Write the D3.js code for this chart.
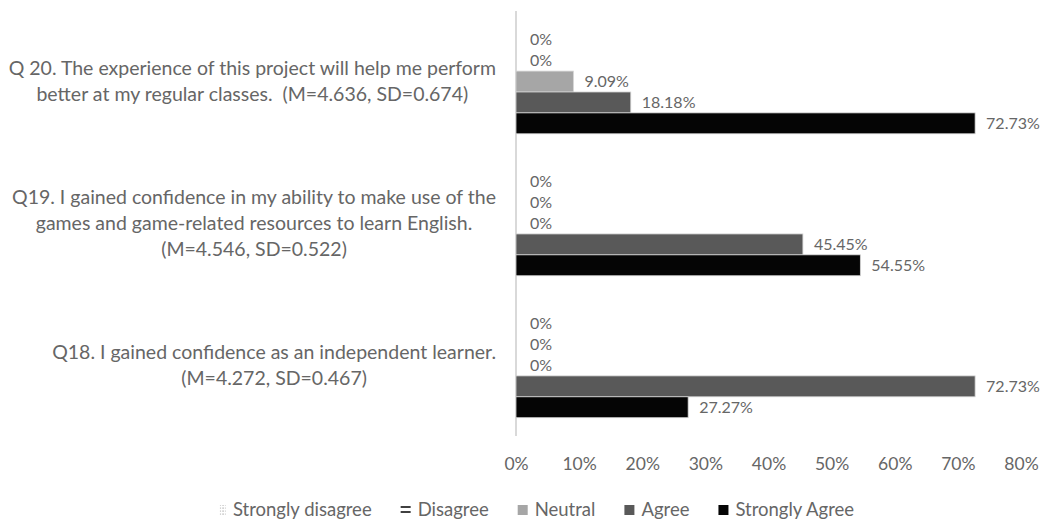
<!DOCTYPE html>
<html>
<head>
<meta charset="utf-8">
<script src="https://cdn.jsdelivr.net/npm/d3@7"></script>
<style>
  html, body { margin: 0; padding: 0; background: #ffffff; }
  svg { display: block; }
  text { font-family: Lato, "Open Sans", sans-serif; fill: #666666; white-space: pre; }
</style>
</head>
<body>
<svg id="chart" width="1046" height="521"></svg>
<script>
// ---------- data ----------
const questions = ["Q20", "Q19", "Q18"];
const questionLabels = [
  ["Q 20. The experience of this project will help me perform", "better at my regular classes.  (M=4.636, SD=0.674)"],
  ["Q19. I gained confidence in my ability to make use of the", "games and game-related resources to learn English.", "(M=4.546, SD=0.522)"],
  ["Q18. I gained confidence as an independent learner.", "(M=4.272, SD=0.467)"]
];
const seriesNames = ["Strongly disagree", "Disagree", "Neutral", "Agree", "Strongly Agree"];
const stronglyDisagree = [0, 0, 0];
const disagree = [0, 0, 0];
const neutral = [9.09, 0, 0];
const agree = [18.18, 45.45, 72.73];
const stronglyAgree = [72.73, 54.55, 27.27];
const tickValues = [0, 10, 20, 30, 40, 50, 60, 70, 80];

const seriesValues = [stronglyDisagree, disagree, neutral, agree, stronglyAgree];

// ---------- layout ----------
const svg = d3.select("#chart");
const defs = svg.append("defs");

const dots = defs.append("pattern").attr("id", "pat-sd")
  .attr("width", 3).attr("height", 3).attr("patternUnits", "userSpaceOnUse");
dots.append("rect").attr("width", 3).attr("height", 3).attr("fill", "#ffffff");
dots.append("rect").attr("x", 0.5).attr("y", 0.5).attr("width", 1.2).attr("height", 1.2).attr("fill", "#a0a0a0");

const stripes = defs.append("pattern").attr("id", "pat-d")
  .attr("width", 4).attr("height", 5).attr("patternUnits", "userSpaceOnUse");
stripes.append("rect").attr("width", 4).attr("height", 5).attr("fill", "#ffffff");
stripes.append("rect").attr("x", 0).attr("y", 1).attr("width", 4).attr("height", 2).attr("fill", "#404040");

const colors = d3.scaleOrdinal()
  .domain(seriesNames)
  .range(["url(#pat-sd)", "url(#pat-d)", "#a6a6a6", "#595959", "#050505"]);

const x = d3.scaleLinear().domain([0, 80]).range([516, 1021]);
const y0 = d3.scaleBand().domain(questions).range([10, 437])
  .paddingInner(0.264).paddingOuter(0.136);
const y1 = d3.scaleBand().domain(seriesNames).range([0, y0.bandwidth()]);

// axis line (category axis)
svg.append("line")
  .attr("x1", x(0)).attr("x2", x(0))
  .attr("y1", 11).attr("y2", 436)
  .attr("stroke", "#d9d9d9").attr("stroke-width", 2);

// x axis tick labels
const xAxis = d3.axisBottom(x).tickValues(tickValues)
  .tickFormat(d => d + "%").tickSize(0).tickPadding(0);
const gx = svg.append("g").attr("transform", "translate(0,457)").call(xAxis);
gx.select(".domain").remove();
gx.selectAll("text").attr("font-size", 17.5).attr("fill", "#666666")
  .style("font-family", "Lato, sans-serif").attr("dy", "0.75em");

// bars
const groups = svg.append("g").selectAll("g")
  .data(questions)
  .join("g")
  .attr("transform", d => `translate(0,${y0(d)})`);

groups.each(function(q, qi) {
  const g = d3.select(this);
  const recs = seriesNames.map((s, si) => ({ s, v: seriesValues[si][qi] }));
  g.selectAll("rect").data(recs).join("rect")
    .attr("x", x(0))
    .attr("y", d => y1(d.s))
    .attr("width", d => x(d.v) - x(0))
    .attr("height", y1.bandwidth())
    .attr("fill", d => colors(d.s))
    .attr("stroke", d => d.v > 0 ? "#d4d4d4" : "none")
    .attr("stroke-width", 0.8);
  g.selectAll("text.val").data(recs).join("text")
    .attr("class", "val")
    .attr("x", d => x(d.v) + (d.v > 0 ? 11 : 14))
    .attr("y", d => y1(d.s) + y1.bandwidth() / 2)
    .attr("dy", "0.35em")
    .attr("font-size", 16)
    .text(d => (d.v === 0 ? "0" : d.v.toFixed(2)) + "%");
});

// category labels
const labelRight = 496;
const lineH = 26;
questions.forEach((q, qi) => {
  const lines = questionLabels[qi];
  const cy = y0(q) + y0.bandwidth() / 2;
  const t = svg.append("text").attr("font-size", 19.5).attr("text-anchor", "middle");
  const spans = lines.map((ln, li) =>
    t.append("tspan")
      .attr("y", cy + (li - (lines.length - 1) / 2) * lineH)
      .attr("dy", "0.35em")
      .text(ln));
  const w = d3.max(spans, s => s.node().getComputedTextLength());
  spans.forEach(s => s.attr("x", labelRight - w / 2));
});

// legend
const legend = svg.append("g");
const legendY = 510;
const items = legend.selectAll("g").data(seriesNames).join("g");
items.append("text")
  .attr("font-size", 18.5)
  .attr("dy", "0.35em")
  .text(d => d);
const sw = 10, gapSw = 7, gapItem = 29;
const widths = [];
items.each(function() { widths.push(d3.select(this).select("text").node().getComputedTextLength()); });
const total = d3.sum(widths) + seriesNames.length * (sw + gapSw) + (seriesNames.length - 1) * gapItem;
let cx = 535 - total / 2;
items.each(function(d, i) {
  const g = d3.select(this);
  g.attr("transform", `translate(${cx},${legendY})`);
  const swW = i === 0 ? 6 : sw;
  g.insert("rect", "text")
    .attr("x", sw - swW).attr("y", -5).attr("width", swW).attr("height", 10)
    .attr("fill", colors(d));
  g.select("text").attr("x", sw + gapSw);
  cx += sw + gapSw + widths[i] + gapItem;
});
</script>
</body>
</html>
